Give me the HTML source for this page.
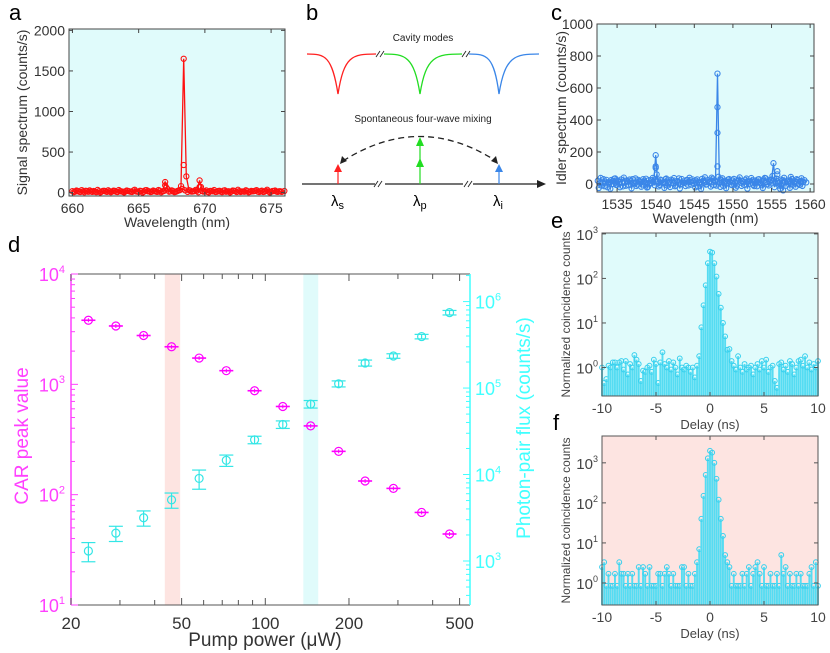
<!DOCTYPE html>
<html><head><meta charset="utf-8"><style>
html,body{margin:0;padding:0;background:#fff}
svg{display:block;font-family:"Liberation Sans","DejaVu Sans",sans-serif}
</style></head><body>
<svg id="fig" width="830" height="653" viewBox="0 0 830 653">
<text x="9" y="20" font-size="22">a</text>
<text x="306" y="20" font-size="22">b</text>
<text x="551" y="20" font-size="22">c</text>
<text x="8" y="252" font-size="22">d</text>
<text x="551" y="228" font-size="22">e</text>
<text x="553" y="430" font-size="22">f</text>

<g id="schem">
<text x="423" y="41" font-size="10" text-anchor="middle" fill="#222">Cavity modes</text>
<path d="M307,54 C325,54 332,56 338,94 C344,56 352,54 376,54" fill="none" stroke="#ff2020" stroke-width="1.3"/>
<path d="M384,54 C405,54 414,56 420,94 C426,56 436,54 462,54" fill="none" stroke="#22dd22" stroke-width="1.3"/>
<path d="M469,54 C487,54 494,56 499,94 C505,56 515,54 539,54" fill="none" stroke="#3a86e8" stroke-width="1.3"/>
<path d="M376,57 l4,-6 M380,57 l4,-6 M462,57 l4,-6 M466,57 l4,-6" stroke="#222" stroke-width="0.9"/>
<text x="423" y="122" font-size="10" text-anchor="middle" fill="#222">Spontaneous four-wave mixing</text>
<path d="M343,161 Q420,112 496,161" fill="none" stroke="#222" stroke-width="1.3" stroke-dasharray="6,4"/>
<path d="M340,164 l2,-8 l5,5 z M498,164 l-2,-8 l-5,5 z" fill="#222"/>
<line x1="302" y1="184" x2="540" y2="184" stroke="#222" stroke-width="1.3"/>
<path d="M546,184 l-9,-4 l0,8 z" fill="#222"/>
<rect x="375" y="180" width="10" height="8" fill="#fff"/><rect x="463" y="180" width="10" height="8" fill="#fff"/>
<path d="M374,187 l4,-6 M378,187 l4,-6 M464,187 l4,-6 M468,187 l4,-6" stroke="#222" stroke-width="0.9"/>
<line x1="338" y1="184" x2="338" y2="170" stroke="#ff2020" stroke-width="1.2"/>
<path d="M338,164 l-4,8 l8,0 z" fill="#ff2020"/>
<line x1="420" y1="184" x2="420" y2="145" stroke="#22dd22" stroke-width="1.2"/>
<path d="M420,137 l-4,9 l8,0 z M420,158 l-4,9 l8,0 z" fill="#22dd22"/>
<line x1="499" y1="184" x2="499" y2="170" stroke="#3a86e8" stroke-width="1.2"/>
<path d="M499,164 l-4,8 l8,0 z" fill="#3a86e8"/>
<text x="331" y="206" font-size="15">λ<tspan font-size="11" dy="3">s</tspan></text>
<text x="413" y="206" font-size="15">λ<tspan font-size="11" dy="3">p</tspan></text>
<text x="493" y="206" font-size="15">λ<tspan font-size="11" dy="3">i</tspan></text>
</g>
</svg>
<script>
// ---- panel a data ----
const aStart = 660, aStep = 0.2;
const aValues = [18,12,20,8,15,22,10,14,19,6,17,11,23,9,16,13,21,7,18,12,15,20,10,25,14,8,19,12,30,16,11,18,9,22,14,
 130,40,15,20,10,25,80,1650,200,30,12,18,22,150,20,
 14,9,21,16,8,19,12,24,10,17,13,22,7,18,15,11,20,9,16,23,12,18,8,21,14,10,19,13,17,9,20];
const aNoise2Start = 660.1;
const aNoise2Values = [6,25,11,30,4,19,27,9,13,33,2,21,15,28,5,24,10,31,14,3,26,17,8,35,12,22,1,29,16,7,25,13,32,4,20,
 60,11,27,6,18,30,45,28,9,24,14,33,5,70,12,27,3,19,31,10,22,6,28,15,2,25,18,34,8,13,29,4,21,17,30,7,24,11,35,3,20,26,9,16];
const aExtraX = [668.4,667.0,669.6];
const aExtraY = [340,90,70];
const aXTicks = [660,665,670,675];
const aYTicks = [0,500,1000,1500,2000];
// ---- panel c data ----
const cStart = 1532.5, cStep = 0.25;
const cValues = [20,5,-10,30,15,-20,10,25,0,35,-5,12,28,-15,8,22,-8,18,30,2,-12,26,14,-3,20,33,-18,6,24,10,
 180,15,-6,22,9,30,-10,12,27,4,-14,19,35,-2,16,8,25,-9,13,29,1,21,-16,11,32,7,-4,24,17,40,-7,14,
 690,10,26,-12,18,5,31,-3,22,12,-11,27,8,19,-6,34,15,2,23,-13,11,29,6,-8,20,36,-1,14,25,
 130,3,18,-10,28,-40,12,22,9,44,-5,16,30,1,19,-12,24,10];
const cNoise2Start = 1532.625;
const cNoise2Values = [-25,38,4,-14,26,11,-30,17,33,-6,21,-20,9,40,-11,15,28,-27,6,35,-3,19,-17,30,12,-22,24,3,38,-8,
 60,-15,27,10,-24,34,2,-19,22,37,-9,13,-28,31,6,-13,25,39,-4,18,-21,29,8,-31,20,42,-2,11,-16,33,23,-10,
 45,-18,36,5,-26,28,14,-7,32,-23,19,41,-12,9,26,-29,16,37,-5,22,-14,30,7,-25,38,12,-9,27,
 50,-20,34,4,-30,21,39,-11,15,-24,31,8,-17,25,-6,36,13];
const cExtraX = [1540,1540,1548,1548,1548,1555.75,1555.75];
const cExtraY = [110,100,480,320,110,80,60];
const cXTicks = [1535,1540,1545,1550,1555,1560];
const cYTicks = [0,200,400,600,800,1000];
// ---- panel d data ----
const pumpPower = [23.1,29,36.5,46,57.8,72.4,91.5,115.6,145.6,183.6,228.6,289,365,460];
const carPeak = [3810,3380,2770,2190,1730,1330,875,630,420,247,133,114,69,44];
const pairFlux = [1306,2100,3160,5090,9010,14600,25200,37900,65200,112000,195000,235000,394000,745000];
const fluxErr = [0.25,0.2,0.2,0.2,0.25,0.15,0.1,0.1,0.1,0.08,0.08,0.06,0.06,0.06];
const dXTickLabels = [20,50,100,200,500];
const redBand = [43.5,49.4];
const cyanBand = [137,155];
// ---- panel e/f data ----
const delayStart = -10, delayStep = 0.2;
const eCounts = [1.0,0.45,0.55,1.1,1.0,1.3,1.3,1.0,1.3,1.4,0.9,1.4,0.7,1.2,1.0,1.9,1.5,1.2,0.5,0.85,0.8,1.0,1.1,0.8,1.5,1.2,0.45,1.3,2.2,1.2,1.0,1.4,0.9,1.3,1.0,0.7,1.6,1.0,0.9,1.1,1.0,0.8,1.0,0.6,
 1.1,1.8,8,25,70,220,400,380,220,110,45,22,10,5,2.5,2.6,1.4,
 1.1,0.9,1.8,1.0,0.8,1.2,0.9,1.0,1.1,0.7,1.0,1.2,0.9,1.4,1.0,1.5,0.8,1.0,1.1,0.5,0.35,1.2,1.3,0.9,1.1,0.8,1.4,1.2,0.7,1.0,1.4,1.5,1.1,1.8,1.0,1.3,0.9,1.2,1.0,1.4];
const fCounts = [2.5,3.3,.85,1.7,.85,.85,1.7,.85,3.3,1.7,1.7,.85,1.7,.85,1.7,.85,.85,2.5,.85,2.5,1.7,.85,2.5,.85,.85,.85,1.7,1.7,.85,1.7,2.5,1.7,.85,1.7,.85,.85,.85,2.5,2.5,.85,1.7,.85,.85,1.7,
 3.3,7,40,150,500,1300,2000,1800,1000,400,120,40,15,5,3.3,2.5,0.85,
 1.7,.85,.85,.85,1.7,.85,1.7,2.5,.85,1.7,2.5,3.3,1.7,.85,2.5,.85,.85,1.7,.85,.85,1.7,.85,5,1.7,2.5,.85,1.7,.85,.85,1.7,.85,1.7,.85,.85,.85,1.7,2.5,.85,3.3,.85];
const efXTicks = [-10,-5,0,5,10];
const efYDecades = [0,1,2,3];

const NS='http://www.w3.org/2000/svg';
const svg=document.getElementById('fig');
function mk(tag,attrs,parent){const e=document.createElementNS(NS,tag);for(const k in attrs)e.setAttribute(k,attrs[k]);(parent||svg).appendChild(e);return e;}
function lin(d0,d1,p0,p1){return v=>p0+(v-d0)*(p1-p0)/(d1-d0);}
function lg(d0,d1,p0,p1){const a=Math.log10(d0),b=Math.log10(d1);return v=>p0+(Math.log10(v)-a)*(p1-p0)/(b-a);}

function supLabel(g,x,y,exp,size,fill,anchor){
  const t=mk('text',{x:x,y:y,'font-size':size,fill:fill,'text-anchor':anchor||'end'},g);
  t.appendChild(document.createTextNode('10'));
  const s=mk('tspan',{'font-size':Math.round(size*0.62),dy:-size*0.45},t);
  s.textContent=exp;
  return t;
}

// ---------- linear panels a & c ----------
function drawSeries(g,X,Y,start,step,vals,color){
  const pts=vals.map((v,i)=>[X(start+i*step),Y(v)]);
  const ln=mk('polyline',{points:pts.map(p=>p[0].toFixed(1)+','+p[1].toFixed(1)).join(' '),fill:'none',stroke:color,'stroke-width':1.3},g);
  
  
  pts.forEach(p=>{const c=mk('circle',{cx:p[0],cy:p[1],r:2.6,fill:'none',stroke:color,'stroke-width':1.1},g);
    
    });
}
function linePanel(o){
  const g=mk('g',{});
  
  
  const X=lin(o.xd[0],o.xd[1],o.L,o.R), Y=lin(o.yd[0],o.yd[1],o.B,o.T);
  const bg=mk('rect',{x:o.L,y:o.T,width:o.R-o.L,height:o.B-o.T,fill:'#e0fbfb'},g);
  
  
  drawSeries(g,X,Y,o.start2,o.step,o.vals2,o.color);
  drawSeries(g,X,Y,o.start,o.step,o.vals,o.color);
  o.ex.forEach((x,i)=>{const c=mk('circle',{cx:X(x),cy:Y(o.ey[i]),r:2.6,fill:'none',stroke:o.color,'stroke-width':1.1},g);
    
    });
  const box=mk('rect',{x:o.L,y:o.T,width:o.R-o.L,height:o.B-o.T,fill:'none',stroke:'#444','stroke-width':1},g);
  
  
  o.xt.forEach(v=>{const x=X(v);
    mk('line',{x1:x,y1:o.B,x2:x,y2:o.B-4,stroke:'#444'},g);mk('line',{x1:x,y1:o.T,x2:x,y2:o.T+4,stroke:'#444'},g);
    const t=mk('text',{x:x,y:o.B+17,'font-size':14,'text-anchor':'middle',fill:'#333'},g);t.textContent=v;
    
    });
  o.yt.forEach(v=>{const y=Y(v);
    mk('line',{x1:o.L,y1:y,x2:o.L+4,y2:y,stroke:'#444'},g);mk('line',{x1:o.R,y1:y,x2:o.R-4,y2:y,stroke:'#444'},g);
    const t=mk('text',{x:o.L-4,y:y+5,'font-size':14,'text-anchor':'end',fill:'#333'},g);t.textContent=v;
    
    });
  const xl=mk('text',{x:(o.L+o.R)/2,y:o.B+31,'font-size':14,'text-anchor':'middle',fill:'#333'},g);xl.textContent='Wavelength (nm)';
  
  
  const cy=(o.T+o.B)/2;
  const yl=mk('text',{x:o.ylx,y:cy,'font-size':14,'text-anchor':'middle',fill:'#333',transform:`rotate(-90 ${o.ylx} ${cy})`},g);yl.textContent=o.ylab;
  
  
}
linePanel({name:'signal-spectrum-chart',L:69,R:285,T:29,B:196,xd:[659.74,676.05],yd:[-42,2017],start:aStart,step:aStep,vals:aValues,start2:aNoise2Start,vals2:aNoise2Values,ex:aExtraX,ey:aExtraY,color:'#ff1010',xt:aXTicks,yt:aYTicks,ylx:27,ylab:'Signal spectrum (counts/s)'});
linePanel({name:'idler-spectrum-chart',L:597,R:814,T:24,B:192,xd:[1532.4,1560.5],yd:[-50,1000],start:cStart,step:cStep,vals:cValues,start2:cNoise2Start,vals2:cNoise2Values,ex:cExtraX,ey:cExtraY,color:'#3a86e8',xt:cXTicks,yt:cYTicks,ylx:566,ylab:'Idler spectrum (counts/s)'});

// ---------- panel d ----------
(function(){
  const L=71,R=470,T=274,B=605;
  const g=mk('g',{});
  
  
  const X=lg(20,545,L,R), YL=lg(10,10000,B,T), YR=lg(Math.pow(10,2.491),Math.pow(10,6.319),B,T);
  const rb=mk('rect',{x:X(redBand[0]),y:T,width:X(redBand[1])-X(redBand[0]),height:B-T,fill:'#fde4e1'},g);
  
  
  const cb=mk('rect',{x:X(cyanBand[0]),y:T,width:X(cyanBand[1])-X(cyanBand[0]),height:B-T,fill:'#e0fbfb'},g);
  
  
  mk('line',{x1:L,y1:T,x2:R,y2:T,stroke:'#555'},g);mk('line',{x1:L,y1:B,x2:R,y2:B,stroke:'#555'},g);
  mk('line',{x1:L,y1:T,x2:L,y2:B,stroke:'#ff40ff','stroke-width':1.5},g);
  mk('line',{x1:R,y1:T,x2:R,y2:B,stroke:'#40ffff','stroke-width':1.5},g);
  const xt=[20,30,40,50,60,70,80,90,100,200,300,400,500];
  xt.forEach(v=>{const x=X(v),len=dXTickLabels.includes(v)?7:5;
    mk('line',{x1:x,y1:B,x2:x,y2:B-len,stroke:'#555'},g);mk('line',{x1:x,y1:T,x2:x,y2:T+len,stroke:'#555'},g);});
  dXTickLabels.forEach(v=>{const t=mk('text',{x:X(v),y:B+24,'font-size':17,'text-anchor':'middle',fill:'#333'},g);t.textContent=v;
    
    });
  for(let e=1;e<=4;e++){
    const y=YL(Math.pow(10,e));mk('line',{x1:L,y1:y,x2:L+7,y2:y,stroke:'#ff40ff'},g);
    const t=supLabel(g,L-6,y+7,e,18,'#ff40ff');
    
    
    if(e<4)for(let m=2;m<10;m++){const yy=YL(m*Math.pow(10,e));mk('line',{x1:L,y1:yy,x2:L+4,y2:yy,stroke:'#ff40ff'},g);}
  }
  for(let e=2;e<=6;e++){
    if(e>=3){const y=YR(Math.pow(10,e));mk('line',{x1:R,y1:y,x2:R-7,y2:y,stroke:'#40ffff'},g);
      const t=supLabel(g,R+5,y+7,e,18,'#40ffff','start');
      
      }
    for(let m=2;m<10;m++){const v=m*Math.pow(10,e);if(v<Math.pow(10,2.491)||v>Math.pow(10,6.319))continue;const yy=YR(v);mk('line',{x1:R,y1:yy,x2:R-4,y2:yy,stroke:'#40ffff'},g);}
  }
  pumpPower.forEach((p,i)=>{const x=X(p),y=YL(carPeak[i]);
    const gg=mk('g',{},g);
    
    
    mk('line',{x1:x-7,y1:y,x2:x+7,y2:y,stroke:'#ff00ff','stroke-width':1.6},gg);
    mk('line',{x1:x,y1:y-2,x2:x,y2:y+2,stroke:'#ff00ff'},gg);
    mk('circle',{cx:x,cy:y,r:4,fill:'none',stroke:'#ff00ff','stroke-width':1.2},gg);});
  pairFlux.forEach((f,i)=>{const x=X(pumpPower[i]),y=YR(f),y1=YR(f*(1+fluxErr[i])),y2=YR(f*(1-fluxErr[i]));
    const gg=mk('g',{},g);
    
    
    mk('line',{x1:x,y1:y1,x2:x,y2:y2,stroke:'#33e6e6','stroke-width':1.2},gg);
    mk('line',{x1:x-7,y1:y1,x2:x+7,y2:y1,stroke:'#33e6e6','stroke-width':1.2},gg);
    mk('line',{x1:x-7,y1:y2,x2:x+7,y2:y2,stroke:'#33e6e6','stroke-width':1.2},gg);
    mk('circle',{cx:x,cy:y,r:4,fill:'none',stroke:'#33e6e6','stroke-width':1.2},gg);});
  const xl=mk('text',{x:265,y:646,'font-size':19,'text-anchor':'middle',fill:'#333'},g);xl.textContent='Pump power (μW)';
  
  
  const yl=mk('text',{x:28,y:436,'font-size':19,'text-anchor':'middle',fill:'#ff40ff',transform:'rotate(-90 28 436)'},g);yl.textContent='CAR peak value';
  
  
  const yr=mk('text',{x:530,y:428,'font-size':19,'text-anchor':'middle',fill:'#40ffff',transform:'rotate(-90 530 428)'},g);yr.textContent='Photon-pair flux (counts/s)';
  
  
})();

// ---------- panels e & f ----------
function histPanel(o){
  const g=mk('g',{});
  
  
  const X=lin(-10,10,o.L,o.R), Y=lg(Math.pow(10,o.lo),Math.pow(10,o.hi),o.B,o.T);
  const bg=mk('rect',{x:o.L,y:o.T,width:o.R-o.L,height:o.B-o.T,fill:o.bg},g);
  
  
  o.vals.forEach((v,i)=>{const x=X(delayStart+i*delayStep),y=Y(v);
    const s=mk('line',{x1:x,y1:o.B,x2:x,y2:y,stroke:'#55dcf2','stroke-width':1.9},g);
    
    
    const c=mk('circle',{cx:x,cy:y,r:2.4,fill:'none',stroke:'#38d0ee','stroke-width':1},g);
    
    });
  const box=mk('rect',{x:o.L,y:o.T,width:o.R-o.L,height:o.B-o.T,fill:'none',stroke:'#555'},g);
  
  
  efXTicks.forEach(v=>{const x=X(v);mk('line',{x1:x,y1:o.B,x2:x,y2:o.B-4,stroke:'#555'},g);mk('line',{x1:x,y1:o.T,x2:x,y2:o.T+4,stroke:'#555'},g);
    const t=mk('text',{x:x,y:o.B+17,'font-size':14,'text-anchor':'middle',fill:'#444'},g);t.textContent=v<0?'-'+(-v):v;
    
    });
  efYDecades.forEach(e=>{const y=Y(Math.pow(10,e));if(y<o.T-1)return;mk('line',{x1:o.L,y1:y,x2:o.L+4,y2:y,stroke:'#555'},g);mk('line',{x1:o.R,y1:y,x2:o.R-4,y2:y,stroke:'#555'},g);
    const t=supLabel(g,o.L-4,y+6,e,15,'#444');
    
    });
  const xl=mk('text',{x:(o.L+o.R)/2,y:o.B+33,'font-size':13,'text-anchor':'middle',fill:'#444'},g);xl.textContent='Delay (ns)';
  
  
  const cy=(o.T+o.B)/2;
  const yl=mk('text',{x:570,y:cy,'font-size':12,'text-anchor':'middle',fill:'#444',transform:`rotate(-90 570 ${cy})`},g);yl.textContent='Normalized coincidence counts';
  
  
}
histPanel({name:'coincidence-histogram-e',L:602,R:818,T:233,B:396,lo:-0.64,hi:3.02,vals:eCounts,bg:'#e0fbfb'});
histPanel({name:'coincidence-histogram-f',L:602,R:818,T:436,B:605,lo:-0.55,hi:3.67,vals:fCounts,bg:'#fde4e1'});
</script>
</body></html>
